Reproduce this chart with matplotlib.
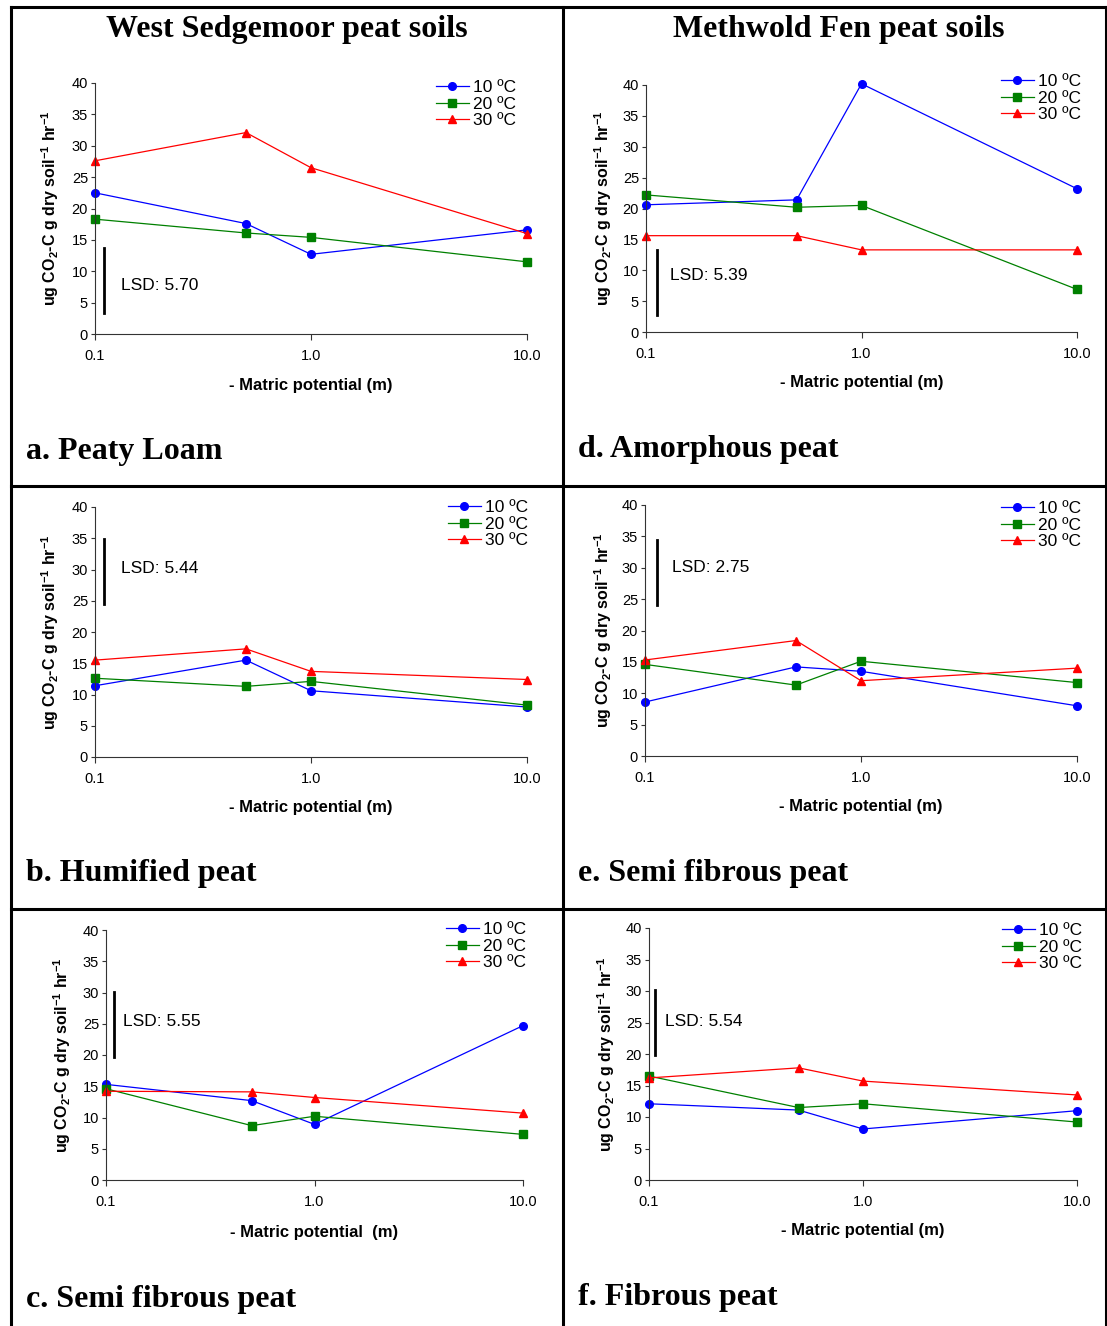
import numpy as np
import matplotlib
matplotlib.use("Agg")
import matplotlib.pyplot as plt
from matplotlib.lines import Line2D

plt.rcParams['font.family'] = ['Liberation Sans', 'DejaVu Sans']
plt.rcParams['mathtext.default'] = 'regular'

W, H = 1107, 1326

# matric potential (m) and respiration rates, ug CO2-C g-1 hr-1
potential = [0.1, 0.5, 1.0, 10.0]
series_names = ['10 ºC', '20 ºC', '30 ºC']

a_10 = [22.5, 17.6, 12.7, 16.6]
a_20 = [18.3, 16.1, 15.4, 11.5]
a_30 = [27.6, 32.1, 26.5, 16.0]

d_10 = [20.6, 21.4, 40.2, 23.2]
d_20 = [22.2, 20.2, 20.5, 6.9]
d_30 = [15.6, 15.6, 13.3, 13.3]

b_10 = [11.4, 15.5, 10.6, 8.0]
b_20 = [12.6, 11.3, 12.1, 8.3]
b_30 = [15.5, 17.3, 13.7, 12.4]

e_10 = [8.6, 14.2, 13.5, 8.0]
e_20 = [14.6, 11.3, 15.1, 11.7]
e_30 = [15.3, 18.4, 12.0, 14.0]

c_10 = [15.3, 12.7, 8.9, 24.7]
c_20 = [14.6, 8.7, 10.2, 7.3]
c_30 = [14.2, 14.1, 13.2, 10.7]

f_10 = [12.1, 11.1, 8.1, 11.0]
f_20 = [16.5, 11.5, 12.1, 9.2]
f_30 = [16.2, 17.8, 15.7, 13.5]

lsd_values = ['5.70', '5.39', '5.44', '2.75', '5.55', '5.54']
lsd_bars = [(3.3, 13.7), (2.7, 13.2), (24.5, 34.9), (24.0, 34.4), (19.7, 30.05), (19.8, 30.2)]

panel_labels = ['a. Peaty Loam', 'd. Amorphous peat', 'b. Humified peat',
                'e. Semi fibrous peat', 'c. Semi fibrous peat', 'f. Fibrous peat']
column_titles = ['West Sedgemoor peat soils', 'Methwold Fen peat soils']
xlabels = ['- Matric potential (m)', '- Matric potential (m)', '- Matric potential (m)',
           '- Matric potential (m)', '- Matric potential  (m)', '- Matric potential (m)']
ylabel = 'ug CO$_2$-C g dry soil$^{-1}$ hr$^{-1}$'

data = [(a_10, a_20, a_30), (d_10, d_20, d_30), (b_10, b_20, b_30),
        (e_10, e_20, e_30), (c_10, c_20, c_30), (f_10, f_20, f_30)]

# layout in pixels: (left, right, top, bottom) of each plot area
boxes = [(95, 527, 83, 334), (646, 1077, 85, 332),
         (95, 527, 507, 757), (645, 1077, 505, 756),
         (106, 523, 930, 1180), (649, 1077, 928, 1180)]
legend_corner = [(516, 80), (1081, 74), (528, 500), (1081, 501), (526, 922), (1082, 923)]
lsd_pos = [(0.021, 0.06, 7.8), (0.026, 0.056, 9.1), (0.021, 0.06, 30.2),
           (0.028, 0.0625, 30.0), (0.019, 0.041, 25.3), (0.014, 0.037, 25.2)]
ylab_x = [50, 603, 50, 603, 62, 606]
xlab_y = [385, 383, 808, 807, 1232, 1231]
label_pos = [(26, 451), (578, 450), (26, 874), (578, 873), (26, 1299), (578, 1297)]

colors = ['#0000FF', '#008000', '#FF0000']
markers = ['o', 's', '^']

fig = plt.figure(figsize=(W / 100, H / 100), dpi=100)

for i in range(6):
    l, r, t, b = boxes[i]
    ax = fig.add_axes([l / W, 1 - b / H, (r - l) / W, (b - t) / H])
    for k in range(3):
        ax.plot(potential, data[i][k], color=colors[k], marker=markers[k],
                markersize=5.5, linewidth=0.9, clip_on=False, label=series_names[k])
    ax.set_xscale('log')
    ax.set_xlim(0.1, 10)
    ax.set_ylim(0, 40)
    ax.set_xticks([0.1, 1, 10])
    ax.set_xticklabels(['0.1', '1.0', '10.0'])
    ax.minorticks_off()
    ax.set_yticks(range(0, 41, 5))
    ax.spines['top'].set_visible(False)
    ax.spines['right'].set_visible(False)
    ax.spines['left'].set_color('#333333')
    ax.spines['bottom'].set_color('#333333')
    ax.tick_params(axis='y', direction='out', length=3, pad=2, labelsize=10.5, color='#333333')
    ax.tick_params(axis='x', direction='out', length=4, pad=7, labelsize=10.5, color='#333333')

    # LSD bar
    bx, tx, ty = lsd_pos[i]
    xb = 10 ** (-1 + 2 * bx)
    ax.plot([xb, xb], lsd_bars[i], color='black', linewidth=2, clip_on=False)
    ax.text(10 ** (-1 + 2 * tx), ty, 'LSD: ' + lsd_values[i], fontsize=12.5, va='center', ha='left')

    lx, ly = legend_corner[i]
    ax.legend(loc='upper right', bbox_to_anchor=(lx / W, 1 - ly / H), bbox_transform=fig.transFigure,
              frameon=False, fontsize=12.5, borderpad=0, borderaxespad=0, handlelength=1.9,
              handletextpad=0.25, labelspacing=0.08)

    fig.text(ylab_x[i] / W, 1 - ((t + b) / 2) / H, ylabel, rotation=90, fontsize=11.5,
             fontweight='bold', ha='center', va='center')
    fig.text(((l + r) / 2) / W, 1 - xlab_y[i] / H, xlabels[i], fontsize=12,
             fontweight='bold', ha='center', va='center')
    px, py = label_pos[i]
    fig.text(px / W, 1 - py / H, panel_labels[i], fontsize=23, fontweight='bold',
             family='Liberation Serif', ha='left', va='center')

fig.text(287 / W, 1 - 29 / H, column_titles[0], fontsize=23, fontweight='bold',
         family='Liberation Serif', ha='center', va='center')
fig.text(839 / W, 1 - 29 / H, column_titles[1], fontsize=23, fontweight='bold',
         family='Liberation Serif', ha='center', va='center')

# table frame
frame = [((11, 11), (7, H)), ((563, 563), (7, H)), ((1106, 1106), (7, H)),
         ((11, 1106), (7, 7)), ((11, 1106), (486, 486)), ((11, 1106), (909, 909))]
for xs, ys in frame:
    fig.add_artist(Line2D([x / W for x in xs], [1 - y / H for y in ys],
                          color='black', linewidth=2.2, transform=fig.transFigure))

fig.savefig('out.png', dpi=100)
